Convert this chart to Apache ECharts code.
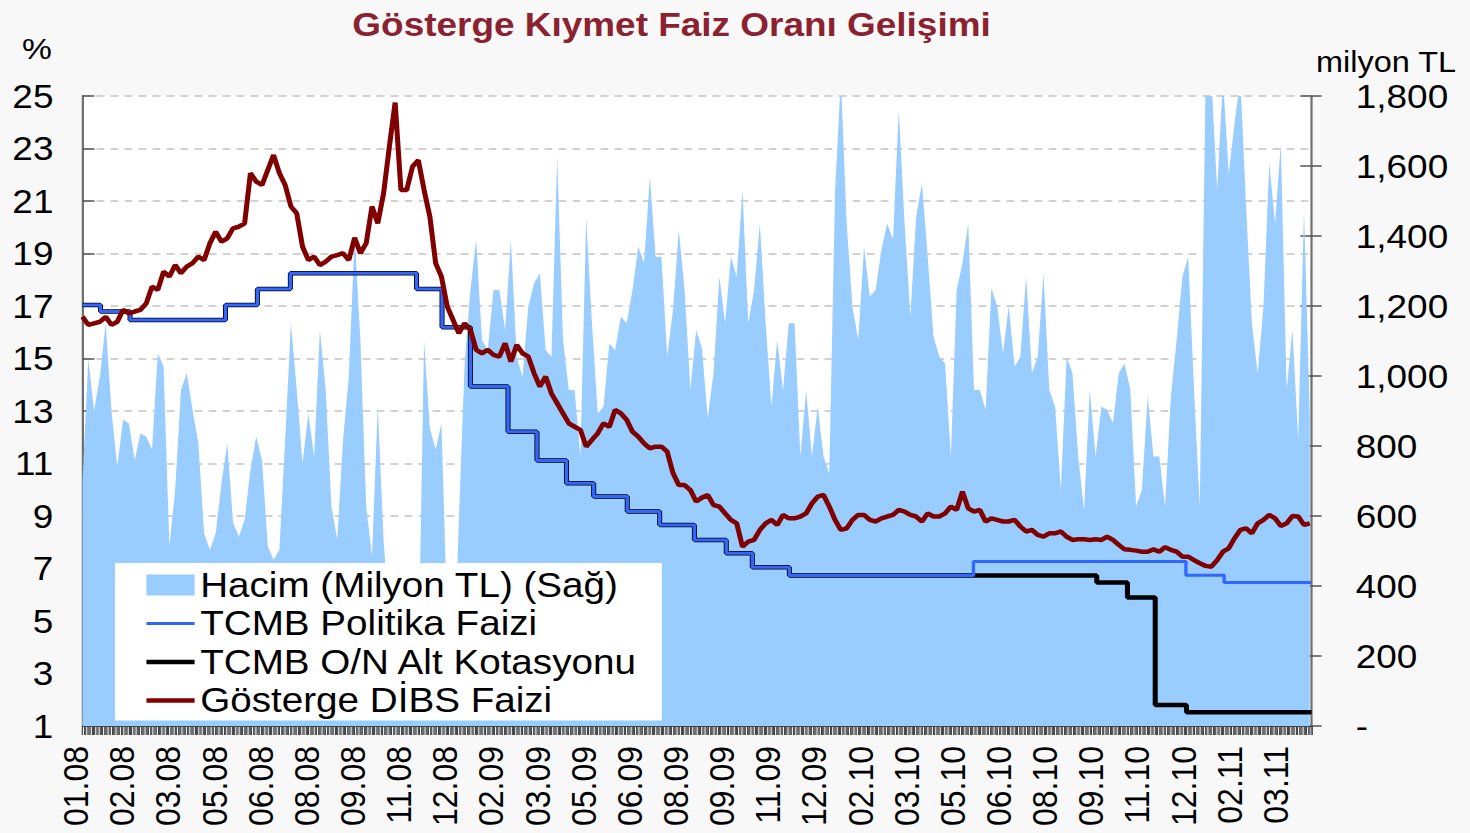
<!DOCTYPE html>
<html>
<head>
<meta charset="utf-8">
<script src="https://cdn.jsdelivr.net/npm/echarts@6/dist/echarts.min.js"></script>
<style>
  html, body { margin: 0; padding: 0; background: #F8F8F8; overflow: hidden; }
  /* the reference is a bit wider than tall, so draw narrow and stretch */
  #chart { width: 1312.5px; height: 833px; transform: scaleX(1.12); transform-origin: 0 0; }
</style>
</head>
<body>
<div id="chart"></div>
<script>
// x labels, one every labelStep points
const xLabels = ['01.08','02.08','03.08','05.08','06.08','08.08','09.08','11.08','12.08',
  '02.09','03.09','05.09','06.09','08.09','09.09','11.09','12.09',
  '02.10','03.10','05.10','06.10','08.10','09.10','11.10','12.10','02.11','03.11']
const labelStep = 7.97

// Hacim (milyon TL), sağ eksen
const volume = [
  700,1050,900,1000,1150,900,740,875,865,760,836,827,790,1065,1027,513,675,960,1008,903,
  808,551,503,551,694,808,580,541,589,732,827,760,513,475,503,817,1151,960,751,893,
  770,1132,960,627,532,817,998,1400,1100,627,484,913,532,300,100,100,100,100,150,1100,
  850,790,865,300,100,580,1036,1246,1389,1103,1074,1246,1246,1131,1389,1055,998,1198,1265,1293,
  1074,1055,1627,1103,960,960,770,1450,1151,893,913,1093,1074,1170,1151,1246,1370,1322,1569,1341,
  1341,1055,1189,1417,1246,960,1131,1080,880,1008,1284,1151,1341,1284,1531,1151,1246,1436,1151,913,
  1103,960,1151,1151,770,960,770,913,770,722,1531,1850,1436,1198,1103,1370,1227,1246,1360,1436,
  1389,1760,1436,1170,1455,1550,1341,1113,1055,1036,770,1246,1322,1436,960,960,903,1250,1200,1065,
  1200,1027,1055,1284,1008,1055,1293,960,913,675,1055,1008,770,617,960,770,913,903,865,1008,
  1036,960,627,675,941,770,770,627,941,1103,1284,1341,960,627,1850,1850,1531,1850,1579,1722,
  1850,1484,1151,1008,1198,1608,1436,1665,960,1132,817,1474,893
]

// Gösterge DİBS faizi (%)
const dibs = [
  16.59,16.28,16.34,16.40,16.59,16.28,16.40,16.85,16.72,16.79,16.85,17.10,17.74,17.61,18.31,18.12,18.56,18.25,18.50,18.63,
  18.88,18.75,19.39,19.83,19.45,19.58,19.96,20.02,20.15,22.06,21.74,21.61,22.18,22.75,22.06,21.61,20.79,20.53,19.26,18.75,
  18.88,18.56,18.69,18.88,18.94,19.01,18.75,19.60,19.01,19.39,20.79,20.15,21.29,23.07,24.75,21.42,21.42,22.31,22.56,21.42,
  20.40,18.63,18.12,16.98,16.47,15.96,16.34,16.09,15.33,15.20,15.33,15.14,15.07,15.58,14.88,15.52,15.20,15.07,14.44,13.93,
  14.31,13.67,13.29,12.91,12.53,12.40,12.28,11.64,11.90,12.15,12.53,12.40,13.04,12.91,12.66,12.21,12.02,11.77,11.58,11.64,
  11.64,11.45,10.63,10.18,10.18,9.99,9.55,9.70,9.80,9.42,9.36,9.10,8.85,8.72,7.83,8.02,8.09,8.47,8.72,8.85,
  8.66,9.04,8.91,8.91,8.98,9.10,9.48,9.74,9.80,9.36,8.85,8.47,8.53,8.85,9.04,9.04,8.85,8.79,8.91,8.98,
  9.04,9.23,9.17,9.04,8.98,8.79,9.10,8.98,8.98,9.10,9.36,9.23,9.93,9.29,9.17,9.23,8.79,8.91,8.85,8.79,
  8.79,8.85,8.60,8.41,8.47,8.28,8.21,8.34,8.34,8.41,8.21,8.09,8.11,8.11,8.09,8.11,8.09,8.21,8.09,7.90,
  7.73,7.71,7.68,7.64,7.64,7.73,7.64,7.81,7.71,7.64,7.45,7.45,7.32,7.20,7.10,7.07,7.32,7.64,7.77,8.15,
  8.47,8.53,8.34,8.72,8.85,9.04,8.91,8.62,8.72,9.00,8.98,8.66,8.72
]

// TCMB politika faizi: değişim noktaları (x = gün sırası) ve oranlar
const policyX = [0,3.1,8.2,24.7,30.2,35.9,57.7,62.1,67.0,73.5,78.5,83.6,88.3,94.1,99.7,105.7,111.2,115.7,122.1,153.9,190.6,197.2,212.3]
const policyY = [17.04,16.79,16.47,17.04,17.65,18.25,17.65,16.19,13.93,12.21,11.11,10.25,9.74,9.17,8.66,8.09,7.58,7.05,6.73,7.27,6.74,6.47,6.47]

// TCMB O/N alt kotasyonu
const onX = [0,3.1,8.2,24.7,30.2,35.9,57.7,62.1,67.0,73.5,78.5,83.6,88.3,94.1,99.7,105.7,111.2,115.7,122.1,175.2,180.5,185.3,190.7,212.3]
const onY = [17.04,16.79,16.47,17.04,17.65,18.25,17.65,16.19,13.93,12.21,11.11,10.25,9.74,9.17,8.66,8.09,7.58,7.05,6.73,6.47,5.90,1.80,1.52,1.52]

const font = 'Liberation Sans, Arial, sans-serif'

let chart = echarts.init(document.getElementById('chart'), null, {renderer: 'svg'})

const option = {
  animation: false,
  grid: {
    left: 73.7, right: 142, top: 96, bottom: 107,
    show: true, backgroundColor: '#fff', borderWidth: 0
  },
  graphic: [
    {type: 'text', x: 599.6, y: 24.5, style: {text: 'Gösterge Kıymet Faiz Oranı Gelişimi', font: 'bold 33px ' + font, fill: '#8B2231', textAlign: 'center', textVerticalAlign: 'middle'}},
    {type: 'text', x: 19.6, y: 48.5, style: {text: '%', font: '30px ' + font, fill: '#000', textAlign: 'left', textVerticalAlign: 'middle'}},
    {type: 'text', x: 1175, y: 62, style: {text: 'milyon TL', font: '29px ' + font, fill: '#000', textAlign: 'left', textVerticalAlign: 'middle'}}
  ],
  legend: {
    orient: 'vertical',
    left: 102.7, top: 563,
    backgroundColor: '#fff',
    padding: [4.5, 21, 2.5, 25.8],
    itemGap: 3.5,
    itemWidth: 43, itemHeight: 21,
    textStyle: {fontSize: 34.5, color: '#000', fontFamily: font},
    data: [
      {name: 'Hacim (Milyon TL) (Sağ)', icon: 'rect', itemStyle: {color: '#99CCFF', borderWidth: 0}},
      {name: 'TCMB Politika Faizi', itemStyle: {opacity: 0}, lineStyle: {width: 3, color: '#3366FF'}},
      {name: 'TCMB O/N Alt Kotasyonu', itemStyle: {opacity: 0}, lineStyle: {width: 4.5, color: '#000'}},
      {name: 'Gösterge DİBS Faizi', itemStyle: {opacity: 0}, lineStyle: {width: 4.5, color: '#800000'}}
    ]
  },
  xAxis: {
    type: 'value', min: 0, max: 212.3, interval: labelStep,
    axisLine: {show: true, lineStyle: {color: '#444', width: 1}},
    axisTick: {show: true, length: 9, lineStyle: {color: '#333'}},
    minorTick: {show: true, splitNumber: 30, length: 9, lineStyle: {color: '#444', width: 1}},
    splitLine: {show: false},
    axisLabel: {
      rotate: 90, fontSize: 32, color: '#000', fontFamily: font, margin: 20,
      verticalAlign: 'bottom', lineHeight: 12.5,
      formatter: function (v) {
        let k = Math.round(v / labelStep)
        return Math.abs(v - k * labelStep) < 0.01 ? (xLabels[k] || '') : ''
      }
    }
  },
  yAxis: [
    {
      type: 'value', position: 'left', min: 1, max: 25, interval: 2,
      axisLine: {show: true, lineStyle: {color: '#707070', width: 2}},
      axisTick: {show: true, inside: true, length: 10.7, lineStyle: {color: '#555', width: 1.5}},
      axisLabel: {fontSize: 33, color: '#000', fontFamily: font, margin: 26},
      splitLine: {show: true, lineStyle: {color: '#C4C4C4', type: [7, 5.5], width: 1.5}}
    },
    {
      type: 'value', position: 'right', min: 0, max: 1800, interval: 200,
      axisLine: {show: true, lineStyle: {color: '#707070', width: 2}},
      axisTick: {show: true, inside: true, length: 10, lineStyle: {color: '#555', width: 1.5}},
      axisLabel: {
        fontSize: 33, color: '#000', fontFamily: font, margin: 39.5,
        formatter: v => v === 0 ? '-' : v.toLocaleString('en-US')
      },
      splitLine: {show: false}
    },
    {
      // outer half of the right ticks
      type: 'value', position: 'right', min: 0, max: 1800, interval: 200,
      axisLine: {show: false},
      axisTick: {show: true, inside: false, length: 9, lineStyle: {color: '#555', width: 1.5}},
      axisLabel: {show: false},
      splitLine: {show: false}
    }
  ],
  series: [
    {
      name: 'Hacim (Milyon TL) (Sağ)', type: 'line', yAxisIndex: 1, z: 1,
      data: volume.map((v, i) => [i, v]),
      symbol: 'none', lineStyle: {width: 0},
      itemStyle: {color: '#99CCFF'},
      areaStyle: {color: '#99CCFF', opacity: 1}
    },
    {
      name: 'TCMB O/N Alt Kotasyonu', type: 'line', yAxisIndex: 0, z: 3, step: 'end',
      data: onX.map((x, i) => [x, onY[i]]),
      symbol: 'none', itemStyle: {color: '#000'}, lineStyle: {color: '#000', width: 4.5}
    },
    {
      name: 'TCMB Politika Faizi', type: 'line', yAxisIndex: 0, z: 4, step: 'end',
      data: policyX.map((x, i) => [x, policyY[i]]),
      symbol: 'none', itemStyle: {color: '#3366FF'}, lineStyle: {color: '#3366FF', width: 3}
    },
    {
      name: 'Gösterge DİBS Faizi', type: 'line', yAxisIndex: 0, z: 5,
      data: dibs.map((v, i) => [i, v]),
      symbol: 'none', itemStyle: {color: '#800000'}, lineStyle: {color: '#800000', width: 4.5}
    }
  ]
}

chart.setOption(option)
</script>
</body>
</html>
